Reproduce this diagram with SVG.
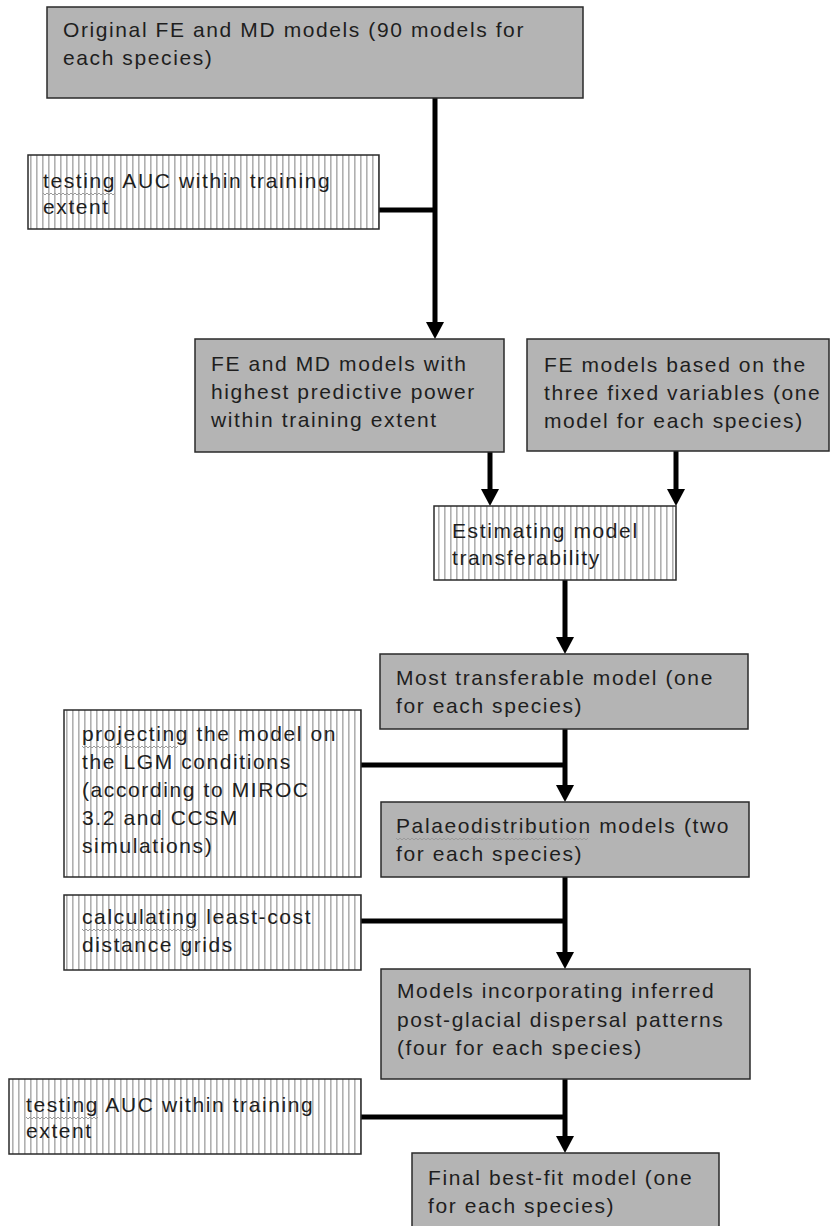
<svg xmlns="http://www.w3.org/2000/svg" width="831" height="1226" viewBox="0 0 831 1226">
<style>
.g{fill:#b4b4b4;stroke:#2a2a2a;stroke-width:1.5}
.h{fill:url(#hatch);stroke:#2a2a2a;stroke-width:1.5}
text{font-family:"Liberation Sans",Arial,sans-serif;font-size:21px;letter-spacing:1.6px;fill:#1e1e1e}
.c{stroke:#000;stroke-width:5;fill:none}
.sq{stroke:#9a9a9a;stroke-width:1;fill:none}
</style>
<defs>
<pattern id="hatch" width="6" height="10" patternUnits="userSpaceOnUse">
<rect width="6" height="10" fill="#fff"/>
<rect x="0" width="1.6" height="10" fill="#b0b0b0"/>
</pattern>
</defs>

<g id="connectors">
<path class="c" d="M435,98 V323"/>
<polygon points="426,322 444,322 435,339" fill="#000"/>
<path class="c" d="M379,210 H435"/>
<path class="c" d="M490,452 V490"/>
<polygon points="481,489 499,489 490,506" fill="#000"/>
<path class="c" d="M676,451 V490"/>
<polygon points="667,489 685,489 676,506" fill="#000"/>
<path class="c" d="M565,580 V638"/>
<polygon points="556,637 574,637 565,654" fill="#000"/>
<path class="c" d="M565,729 V786"/>
<path class="c" d="M361,765 H565"/>
<polygon points="556,785 574,785 565,802" fill="#000"/>
<path class="c" d="M565,877 V953"/>
<path class="c" d="M361,921 H565"/>
<polygon points="556,952 574,952 565,969" fill="#000"/>
<path class="c" d="M565,1079 V1137"/>
<path class="c" d="M361,1117 H565"/>
<polygon points="556,1136 574,1136 565,1153" fill="#000"/>
</g>

<g id="n1">
<rect class="g" x="47" y="7" width="536" height="91"/>
<text x="63" y="37">Original FE and MD models (90 models for</text>
<text x="63" y="65">each species)</text>
</g>

<g id="n2">
<rect class="h" x="28" y="155" width="351" height="74"/>
<text x="43" y="188">testing AUC within training</text>
<text x="43" y="214">extent</text>
<path class="sq" d="M43,193 l2,2 l2,-2 l2,2 l2,-2 l2,2 l2,-2 l2,2 l2,-2 l2,2 l2,-2 l2,2 l2,-2 l2,2 l2,-2 l2,2 l2,-2 l2,2 l2,-2 l2,2 l2,-2 l2,2 l2,-2 l2,2 l2,-2 l2,2 l2,-2 l2,2 l2,-2 l2,2 l2,-2 l2,2 l2,-2 l2,2 l2,-2 l2,2 l2,-2"/>
</g>

<g id="n3">
<rect class="g" x="195" y="339" width="309" height="113"/>
<text x="211" y="371">FE and MD models with</text>
<text x="211" y="399">highest predictive power</text>
<text x="211" y="427">within training extent</text>
</g>

<g id="n4">
<rect class="g" x="527" y="339" width="302" height="112"/>
<text x="544" y="372">FE models based on the</text>
<text x="544" y="400">three fixed variables (one</text>
<text x="544" y="428">model for each species)</text>
</g>

<g id="n5">
<rect class="h" x="434" y="506" width="242" height="74"/>
<text x="452" y="538">Estimating model</text>
<text x="452" y="565">transferability</text>
</g>

<g id="n6">
<rect class="g" x="380" y="654" width="368" height="75"/>
<text x="396" y="685">Most transferable model (one</text>
<text x="396" y="713">for each species)</text>
</g>

<g id="n7">
<rect class="h" x="64" y="710" width="297" height="167"/>
<text x="82" y="741">projecting the model on</text>
<text x="82" y="769">the LGM conditions</text>
<text x="82" y="797">(according to MIROC</text>
<text x="82" y="825">3.2 and CCSM</text>
<text x="82" y="853">simulations)</text>
<path class="sq" d="M82,746 l2,2 l2,-2 l2,2 l2,-2 l2,2 l2,-2 l2,2 l2,-2 l2,2 l2,-2 l2,2 l2,-2 l2,2 l2,-2 l2,2 l2,-2 l2,2 l2,-2 l2,2 l2,-2 l2,2 l2,-2 l2,2 l2,-2 l2,2 l2,-2 l2,2 l2,-2 l2,2 l2,-2 l2,2 l2,-2 l2,2 l2,-2 l2,2 l2,-2 l2,2 l2,-2 l2,2 l2,-2 l2,2 l2,-2 l2,2 l2,-2 l2,2 l2,-2 l2,2 l2,-2"/>
</g>

<g id="n8">
<rect class="g" x="381" y="802" width="368" height="75"/>
<text x="396" y="833">Palaeodistribution models (two</text>
<text x="396" y="861">for each species)</text>
<path class="sq" d="M396,838 l2,2 l2,-2 l2,2 l2,-2 l2,2 l2,-2 l2,2 l2,-2 l2,2 l2,-2 l2,2 l2,-2 l2,2 l2,-2 l2,2 l2,-2 l2,2 l2,-2 l2,2 l2,-2 l2,2 l2,-2 l2,2 l2,-2 l2,2 l2,-2 l2,2 l2,-2 l2,2 l2,-2 l2,2 l2,-2 l2,2 l2,-2 l2,2 l2,-2 l2,2 l2,-2 l2,2 l2,-2 l2,2 l2,-2 l2,2 l2,-2 l2,2 l2,-2 l2,2 l2,-2 l2,2 l2,-2 l2,2 l2,-2 l2,2 l2,-2 l2,2 l2,-2 l2,2 l2,-2 l2,2 l2,-2 l2,2 l2,-2 l2,2 l2,-2 l2,2 l2,-2 l2,2 l2,-2 l2,2 l2,-2 l2,2 l2,-2 l2,2 l2,-2 l2,2 l2,-2 l2,2 l2,-2 l2,2 l2,-2 l2,2 l2,-2 l2,2 l2,-2 l2,2 l2,-2 l2,2 l2,-2 l2,2 l2,-2 l2,2 l2,-2 l2,2 l2,-2 l2,2 l2,-2"/>
</g>

<g id="n9">
<rect class="h" x="64" y="895" width="297" height="75"/>
<text x="82" y="924">calculating least-cost</text>
<text x="82" y="952">distance grids</text>
<path class="sq" d="M82,929 l2,2 l2,-2 l2,2 l2,-2 l2,2 l2,-2 l2,2 l2,-2 l2,2 l2,-2 l2,2 l2,-2 l2,2 l2,-2 l2,2 l2,-2 l2,2 l2,-2 l2,2 l2,-2 l2,2 l2,-2 l2,2 l2,-2 l2,2 l2,-2 l2,2 l2,-2 l2,2 l2,-2 l2,2 l2,-2 l2,2 l2,-2 l2,2 l2,-2 l2,2 l2,-2 l2,2 l2,-2 l2,2 l2,-2 l2,2 l2,-2 l2,2 l2,-2 l2,2 l2,-2 l2,2 l2,-2 l2,2 l2,-2 l2,2 l2,-2 l2,2 l2,-2 l2,2 l2,-2"/>
</g>

<g id="n10">
<rect class="g" x="381" y="969" width="369" height="110"/>
<text x="397" y="998">Models incorporating inferred</text>
<text x="397" y="1027">post-glacial dispersal patterns</text>
<text x="397" y="1055">(four for each species)</text>
</g>

<g id="n11">
<rect class="h" x="9" y="1079" width="352" height="75"/>
<text x="26" y="1112">testing AUC within training</text>
<text x="26" y="1138">extent</text>
<path class="sq" d="M26,1117 l2,2 l2,-2 l2,2 l2,-2 l2,2 l2,-2 l2,2 l2,-2 l2,2 l2,-2 l2,2 l2,-2 l2,2 l2,-2 l2,2 l2,-2 l2,2 l2,-2 l2,2 l2,-2 l2,2 l2,-2 l2,2 l2,-2 l2,2 l2,-2 l2,2 l2,-2 l2,2 l2,-2 l2,2 l2,-2 l2,2 l2,-2 l2,2 l2,-2"/>
</g>

<g id="n12">
<rect class="g" x="412" y="1153" width="307" height="80"/>
<text x="428" y="1185">Final best-fit model (one</text>
<text x="428" y="1213">for each species)</text>
</g>
</svg>
